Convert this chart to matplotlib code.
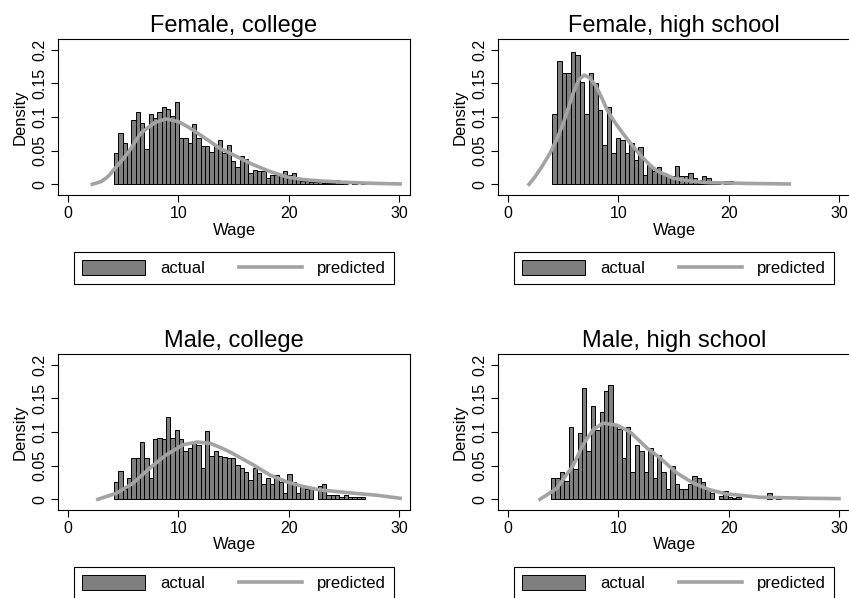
import matplotlib
matplotlib.use("Agg")
import matplotlib.pyplot as plt
import numpy as np
from matplotlib.patches import Patch
from matplotlib.lines import Line2D

plt.rcParams['font.family'] = ['Liberation Sans', 'DejaVu Sans']

titles = ["Female, college", "Female, high school", "Male, college", "Male, high school"]

# histograms: first bin edge, bin width, density per bin
fc_start, fc_width = 4.17, 0.393
fc_dens = [0.047, 0.076, 0.061, 0.053, 0.095, 0.108, 0.091, 0.053, 0.104, 0.099,
           0.107, 0.114, 0.111, 0.101, 0.122, 0.069, 0.069, 0.061, 0.089, 0.068,
           0.057, 0.057, 0.048, 0.057, 0.066, 0.047, 0.058, 0.034, 0.026, 0.042,
           0.037, 0.017, 0.021, 0.020, 0.019, 0.009, 0.014, 0.014, 0.014, 0.020,
           0.014, 0.017, 0.009, 0.005, 0.005, 0.004, 0.004, 0.004, 0.002, 0.0016,
           0.0016, 0.006, 0.004, 0.001, 0.0, 0.002, 0.0, 0.0016, 0.0, 0.002,
           0.0, 0.0, 0.0016, 0.0, 0.0015]

fh_start, fh_width = 4.03, 0.41
fh_dens = [0.105, 0.183, 0.165, 0.165, 0.197, 0.192, 0.152, 0.105, 0.165, 0.151,
           0.110, 0.058, 0.115, 0.046, 0.068, 0.066, 0.046, 0.061, 0.036, 0.056,
           0.014, 0.029, 0.019, 0.026, 0.017, 0.012, 0.013, 0.027, 0.012, 0.013,
           0.017, 0.009, 0.007, 0.013, 0.009, 0.004, 0.005, 0.0, 0.005, 0.005]

mc_start, mc_width = 4.17, 0.393
mc_dens = [0.026, 0.042, 0.015, 0.031, 0.061, 0.061, 0.085, 0.061, 0.032, 0.089,
           0.091, 0.089, 0.122, 0.091, 0.103, 0.089, 0.071, 0.076, 0.084, 0.080,
           0.046, 0.102, 0.064, 0.071, 0.064, 0.063, 0.061, 0.061, 0.051, 0.047,
           0.041, 0.029, 0.047, 0.039, 0.022, 0.031, 0.022, 0.036, 0.025, 0.009,
           0.038, 0.026, 0.009, 0.019, 0.016, 0.015, 0.0, 0.019, 0.023, 0.007,
           0.006, 0.007, 0.004, 0.006, 0.004, 0.003, 0.004, 0.003]

mh_start, mh_width = 3.9, 0.40
mh_dens = [0.031, 0.031, 0.040, 0.027, 0.107, 0.045, 0.098, 0.165, 0.071, 0.138,
           0.103, 0.129, 0.161, 0.170, 0.110, 0.105, 0.062, 0.108, 0.041, 0.081,
           0.071, 0.041, 0.076, 0.031, 0.066, 0.041, 0.016, 0.049, 0.022, 0.016,
           0.016, 0.022, 0.035, 0.031, 0.026, 0.014, 0.009, 0.0, 0.005, 0.013,
           0.004, 0.002, 0.003, 0.0, 0.0, 0.0, 0.0, 0.0, 0.0, 0.009,
           0.0, 0.003, 0.0, 0.0, 0.0, 0.0, 0.003, 0.0, 0.002]

# predicted densities
fc_wage = [2.2, 3.0, 3.6, 4.8, 5.4, 6.6, 7.9, 8.9, 10.0, 10.9, 12.0, 13.0, 13.8,
           14.7, 15.8, 16.8, 18.3, 19.8, 21.3, 22.8, 25.0, 27.5, 30.1]
fc_pred = [0.0, 0.004, 0.011, 0.034, 0.046, 0.076, 0.092, 0.097, 0.093, 0.085,
           0.073, 0.062, 0.053, 0.046, 0.037, 0.029, 0.019, 0.011, 0.007, 0.005,
           0.003, 0.0015, 0.0005]

fh_wage = [1.9, 2.4, 3.1, 3.8, 4.4, 5.0, 5.5, 5.9, 6.4, 6.9, 7.4, 8.0, 8.5, 9.0,
           9.55, 10.3, 11.1, 12.0, 12.9, 13.5, 15.0, 16.5, 18.0, 22.0, 25.5]
fh_pred = [0.0, 0.010, 0.027, 0.046, 0.066, 0.090, 0.115, 0.135, 0.155, 0.162,
           0.158, 0.145, 0.128, 0.110, 0.095, 0.078, 0.061, 0.043, 0.028, 0.020,
           0.009, 0.005, 0.0025, 0.0012, 0.0005]

mc_wage = [2.7, 4.4, 5.9, 7.4, 8.9, 10.45, 11.7, 12.9, 13.8, 14.7, 16.8, 18.3,
           19.8, 21.3, 22.8, 25.9, 28.0, 30.1]
mc_pred = [0.0, 0.009, 0.024, 0.046, 0.066, 0.081, 0.085, 0.083, 0.077, 0.070,
           0.051, 0.036, 0.026, 0.019, 0.014, 0.009, 0.006, 0.0015]

mh_wage = [2.9, 4.4, 5.9, 6.8, 7.7, 8.6, 9.86, 11.06, 12.6, 13.8, 15.3, 16.8,
           18.3, 19.8, 22.8, 27.4, 30.0]
mh_pred = [0.0, 0.016, 0.050, 0.081, 0.103, 0.113, 0.110, 0.100, 0.076, 0.061,
           0.039, 0.024, 0.014, 0.008, 0.003, 0.0015, 0.001]

hists = [(fc_start, fc_width, fc_dens), (fh_start, fh_width, fh_dens),
         (mc_start, mc_width, mc_dens), (mh_start, mh_width, mh_dens)]
curves = [(fc_wage, fc_pred), (fh_wage, fh_pred), (mc_wage, mc_pred), (mh_wage, mh_pred)]

bar_col = '#7f7f7f'
line_col = '#a3a3a3'

W, H = 849, 598
fig = plt.figure(figsize=(W / 100, H / 100), dpi=100)
corners = [(58, 39), (498, 39), (58, 354), (498, 354)]   # top-left pixel of each frame
aw, ah = 352, 156

for i in range(4):
    x0, y0 = corners[i]
    ax = fig.add_axes([x0 / W, 1 - (y0 + ah) / H, aw / W, ah / H])
    start, width, dens = hists[i]
    dens = np.array(dens)
    edges = start + width * np.arange(len(dens))
    keep = dens > 0
    ax.bar(edges[keep], dens[keep], width=width, align='edge', color=bar_col,
           edgecolor='black', linewidth=0.7)
    ax.plot(curves[i][0], curves[i][1], color=line_col, lw=2.6)

    ax.set_xlim(-0.91, 31.0)
    ax.set_ylim(-0.0159, 0.2156)
    ax.set_xticks([0, 10, 20, 30])
    ax.set_yticks([0, 0.05, 0.1, 0.15, 0.2])
    ax.set_yticklabels(['0', '0.05', '0.1', '0.15', '0.2'], rotation=90, va='center')
    ax.tick_params(direction='out', length=5, width=0.8, labelsize=11.5, pad=3)
    for s in ax.spines.values():
        s.set_linewidth(0.8)
    ax.set_xlabel('Wage', fontsize=12, labelpad=1)
    ax.set_ylabel('Density', fontsize=12, labelpad=3)
    ax.set_title(titles[i], fontsize=17, pad=5)

    handles = [Patch(facecolor=bar_col, edgecolor='black', linewidth=0.7),
               Line2D([], [], color=line_col, lw=2.6)]
    leg = ax.legend(handles, ['actual', 'predicted'], ncol=2, loc='upper center',
                    bbox_to_anchor=(0.5, -0.363), borderaxespad=0, fontsize=12,
                    frameon=True, fancybox=False, edgecolor='black', framealpha=1,
                    handlelength=3.8, handleheight=1.0, handletextpad=0.9,
                    columnspacing=2.0, borderpad=0.5)
    leg.get_frame().set_linewidth(0.8)

fig.savefig('out.png', dpi=100)
